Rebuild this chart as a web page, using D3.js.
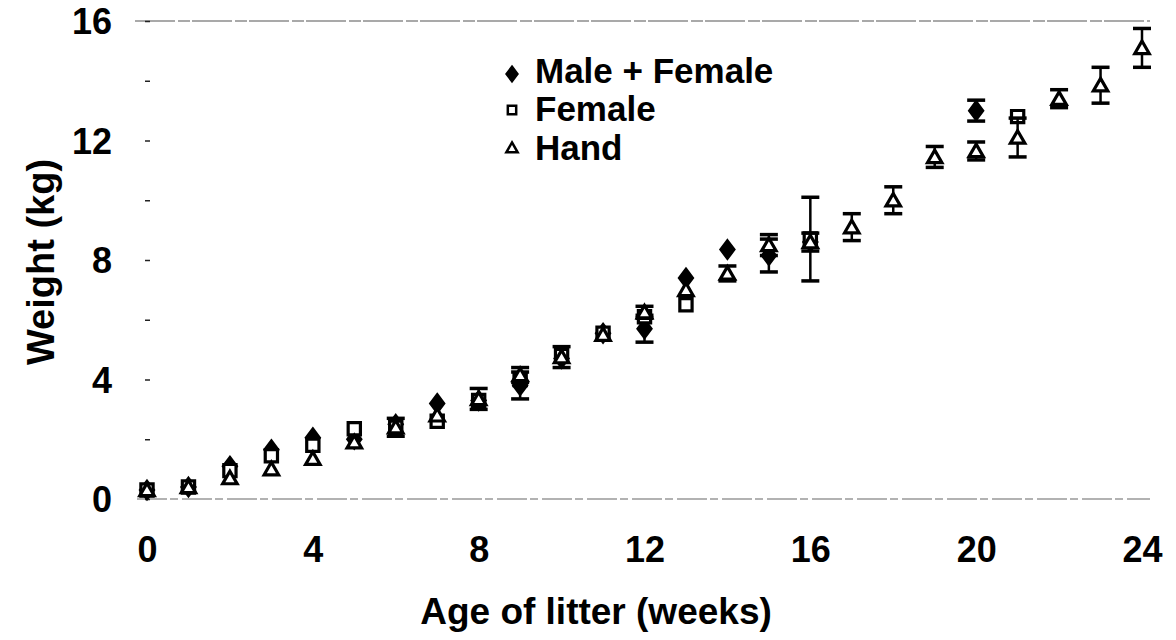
<!DOCTYPE html>
<html><head><meta charset="utf-8">
<script src="https://cdn.jsdelivr.net/npm/d3@7"></script>
<style>body{margin:0;background:#fff}text{font-family:"Liberation Sans",Arial,sans-serif;font-weight:bold}</style>
</head><body><svg id="c" width="1176" height="640"></svg>
<script>
const weeks = d3.range(0, 25);
// Male + Female (null = not shown)
const mfVals = [0.3,0.4,1.1,1.65,2.05,2.0,2.5,3.2,3.3,3.8,4.7,5.55,5.7,7.4,8.35,8.15,8.6,null,null,null,13.0,null,null,null,null];
const mfErr  = [0,0,0,0,0,0,0,0,0,0.45,0,0,0.45,0,0,0.55,0,0,0,0,0.35,0,0,0,0];
// Female
const fVals = [0.3,0.4,0.95,1.45,1.8,2.35,2.4,2.6,3.3,4.0,4.8,5.55,6.1,6.5,null,null,8.7,null,null,null,null,12.8,null,null,null];
const fErr  = [0,0,0,0,0,0,0,0,0,0,0,0,0,0,0,0,1.4,0,0,0,0,0,0,0,0];
// Hand
const hVals = [0.3,0.4,0.7,1.0,1.35,1.9,2.4,2.8,3.35,4.15,4.75,5.5,6.25,7.0,7.55,8.5,8.6,9.1,10.0,11.45,11.65,12.1,13.4,13.85,15.1];
const hErr  = [0,0,0,0,0,0,0.3,0,0.35,0.25,0.35,0,0.2,0,0.25,0.35,0.3,0.45,0.45,0.35,0.3,0.65,0.3,0.6,0.65];
const xTicks = [0,4,8,12,16,20,24];
const yTicks = [0,4,8,12,16];
const yMinor = [2,6,10,14];
const legendLabels = ["Male + Female","Female","Hand"];

const svg = d3.select("#c");
const x = d3.scaleLinear().domain([0,24]).range([147,1142]);
const y = d3.scaleLinear().domain([0,16]).range([499,21]);

// top and bottom frame lines
svg.append("line").attr("x1",135).attr("x2",1150).attr("y1",y(16)).attr("y2",y(16))
  .attr("stroke","#555").attr("stroke-width",1.2).attr("stroke-dasharray","40,3,12,2");
svg.append("line").attr("x1",137).attr("x2",1150).attr("y1",y(0)).attr("y2",y(0))
  .attr("stroke","#666").attr("stroke-width",1.1).attr("stroke-dasharray","30,3,8,4");

// y axis (tiny ticks, no domain)
const yAx = svg.append("g").attr("transform","translate(150,0)")
  .call(d3.axisLeft(y).tickValues(yTicks.concat(yMinor)).tickSize(5).tickFormat(d => yTicks.includes(d) ? d : ""));
yAx.select(".domain").remove();
yAx.selectAll(".tick line").attr("stroke","#222").attr("stroke-width",1.5);
yAx.selectAll(".tick text").attr("x",-38).attr("font-size",36).attr("font-weight","bold")
  .attr("font-family","Liberation Sans, Arial, sans-serif").attr("fill","#000").attr("dy","0.36em");

// x axis labels
const xAx = svg.append("g").attr("transform",`translate(0,${y(0)})`)
  .call(d3.axisBottom(x).tickValues(xTicks).tickSize(0));
xAx.select(".domain").remove();
xAx.selectAll(".tick text").attr("y",37).attr("font-size",36).attr("font-weight","bold")
  .attr("font-family","Liberation Sans, Arial, sans-serif").attr("fill","#000").attr("dy","0.71em");

svg.append("text").attr("x",596).attr("y",624).attr("text-anchor","middle").attr("font-size",37).text("Age of litter (weeks)");
svg.append("text").attr("transform","translate(54,262) rotate(-90)").attr("text-anchor","middle").attr("font-size",38).text("Weight (kg)");

// symbols
const sym = {
  mf: d3.symbol().type(d3.symbolDiamond).size(110),
  f: d3.symbol().type(d3.symbolSquare).size(150),
  h: d3.symbol().type(d3.symbolTriangle).size(90)
};
function drawSeries(vals, errs, key, fill){
  const g = svg.append("g");
  const data = weeks.map((w,i)=>({w, v: vals[i], e: errs[i]})).filter(d=>d.v!=null);
  const eb = data.filter(d=>d.e>0);
  g.selectAll("line.v").data(eb).join("line").attr("x1",d=>x(d.w)).attr("x2",d=>x(d.w))
    .attr("y1",d=>y(d.v-d.e)).attr("y2",d=>y(d.v+d.e)).attr("stroke","#000").attr("stroke-width",2.5);
  [-1,1].forEach(s=>{
    g.selectAll("line.c"+s).data(eb).join("line").attr("x1",d=>x(d.w)-9).attr("x2",d=>x(d.w)+9)
      .attr("y1",d=>y(d.v+s*d.e)).attr("y2",d=>y(d.v+s*d.e)).attr("stroke","#000").attr("stroke-width",3.5);
  });
  g.selectAll("path").data(data).join("path")
    .attr("transform",d=>`translate(${x(d.w)},${y(d.v) + (key==='h'?1.5:0)}) ${key==='mf'?'scale(1.3,1)':''}`)
    .attr("d",sym[key]()).attr("fill",fill).attr("stroke","#000").attr("stroke-width",key==='mf'?1.5:3.2);
}
drawSeries(mfVals, mfErr, "mf", "#000");
drawSeries(fVals, fErr, "f", "#fff");
drawSeries(hVals, hErr, "h", "#fff");

// legend
const lg = svg.append("g");
const lgSym = [
  d3.symbol().type(d3.symbolDiamond).size(70)(),
  d3.symbol().type(d3.symbolSquare).size(70)(),
  d3.symbol().type(d3.symbolTriangle).size(55)()
];
const lgY = [72,110,149];
legendLabels.forEach((t,i)=>{
  lg.append("path").attr("d",lgSym[i]).attr("transform",`translate(512,${lgY[i]+ (i===0?2:0)}) ${i===0?'scale(1.3,1)':''}`)
    .attr("fill",i===0?"#000":"#fff").attr("stroke","#000").attr("stroke-width",i===0?1.5:2.5);
  lg.append("text").attr("x",535).attr("y",lgY[i]+11).attr("font-size",35).text(t);
});
</script></body></html>
